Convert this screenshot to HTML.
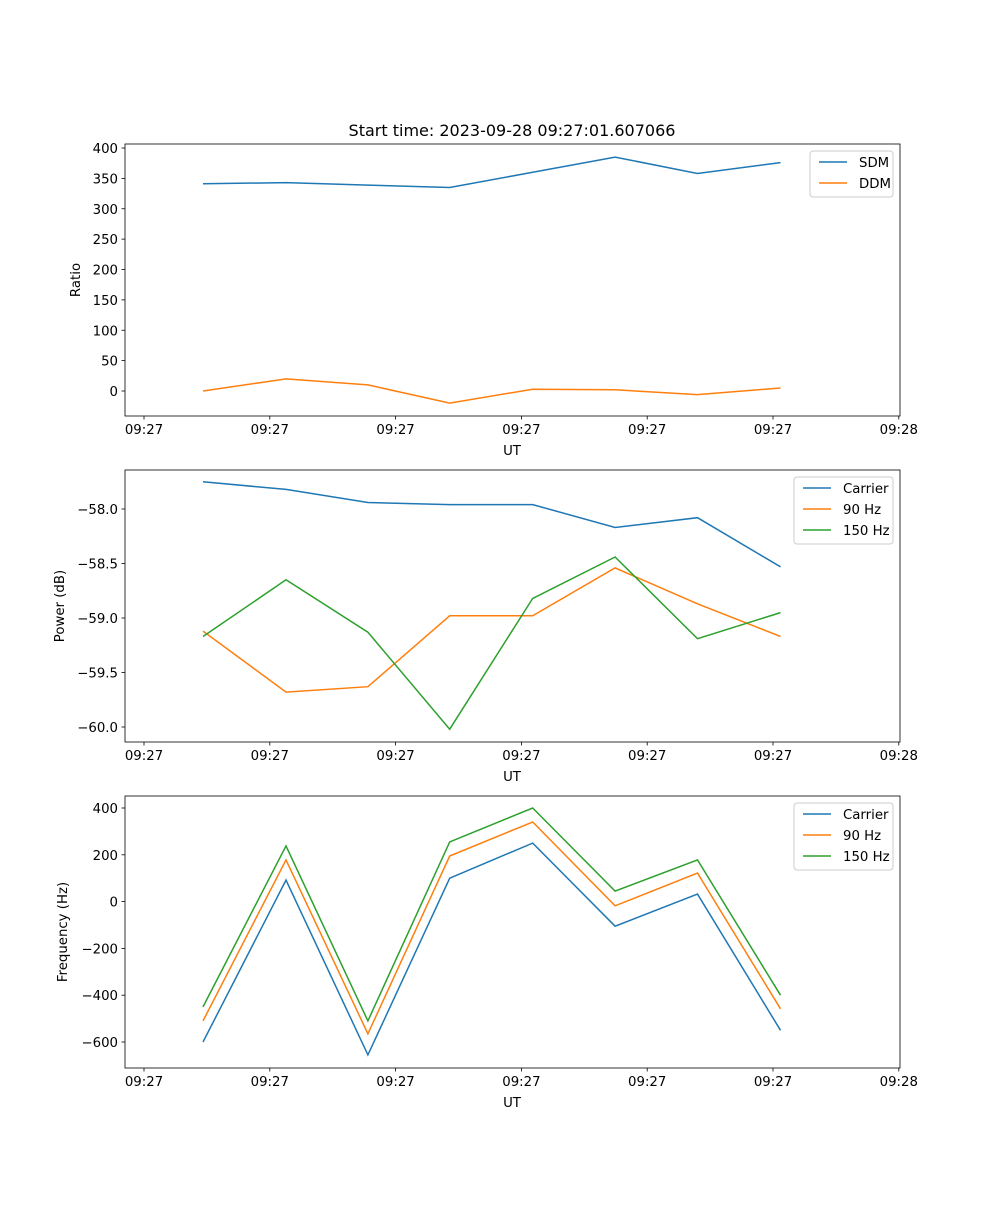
<!DOCTYPE html>
<html><head><meta charset="utf-8"><style>
html,body{margin:0;padding:0;background:#fff}
svg text{font-family:"DejaVu Sans","Liberation Sans",sans-serif;font-size:13.3px;fill:#000}
</style></head><body>
<svg id="fig" width="1000" height="1200" xmlns="http://www.w3.org/2000/svg">
<text x="512" y="136" text-anchor="middle" style="font-size:16px">Start time: 2023-09-28 09:27:01.607066</text>
</svg>
<script>
// shared x data (sample index time, in tick units)
const times = [0.469, 1.129, 1.78, 2.43, 3.09, 3.745, 4.40, 5.06];
const xTickLabels = ["09:27","09:27","09:27","09:27","09:27","09:27","09:28"];
// panel 1
const sdm = [341, 343, 339, 335, 360, 385, 358, 376];
const ddm = [0, 20, 10, -20, 3, 2, -6, 5];
const ratioTicks = [0,50,100,150,200,250,300,350,400];
// panel 2
const pCarrier = [-57.75, -57.82, -57.94, -57.96, -57.96, -58.17, -58.08, -58.53];
const p90 = [-59.12, -59.68, -59.63, -58.98, -58.98, -58.54, -58.87, -59.17];
const p150 = [-59.17, -58.65, -59.13, -60.02, -58.82, -58.44, -59.19, -58.95];
const powerTicks = [-58.0,-58.5,-59.0,-59.5,-60.0];
// panel 3
const fCarrier = [-600, 92, -655, 100, 250, -105, 32, -550];
const f90 = [-510, 178, -565, 195, 340, -18, 122, -458];
const f150 = [-450, 238, -510, 255, 400, 45, 178, -400];
const freqTicks = [-600,-400,-200,0,200,400];

const NS="http://www.w3.org/2000/svg";
const svg=document.getElementById('fig');
const C={b:'#1f77b4',o:'#ff7f0e',g:'#2ca02c'};
function el(t,a,p){const e=document.createElementNS(NS,t);for(const k in a)e.setAttribute(k,a[k]);(p||svg).appendChild(e);return e;}
const X0=125,X1=900;
const xs=v=>144+v*125.8;

function panel(name,top,bot,yv0,py0,yv1,py1,ticks,fmt,ylabel,series,legend){
  const g=el('g',{});
  
  
  const ys=v=>py0+(v-yv0)*(py1-py0)/(yv1-yv0);
  series.forEach(s=>{
    const pts=s.d.map((v,i)=>xs(times[i]).toFixed(1)+','+ys(v).toFixed(1)).join(' ');
    const l=el('polyline',{points:pts,fill:'none',stroke:s.c,'stroke-width':1.5},g);
    
    
  });
  el('rect',{x:X0,y:top,width:X1-X0,height:bot-top,fill:'none',stroke:'#000','stroke-width':0.8},g);
  xTickLabels.forEach((t,i)=>{
    const x=xs(i);
    el('line',{x1:x,x2:x,y1:bot,y2:bot+3.5,stroke:'#000','stroke-width':0.8},g);
    const tx=el('text',{x:x,y:bot+18,'text-anchor':'middle'},g);tx.textContent=t;
    
    
  });
  const xl=el('text',{x:512,y:bot+39,'text-anchor':'middle'},g);xl.textContent='UT';
  
  
  ticks.forEach(v=>{
    const y=ys(v);
    el('line',{x1:X0-3.5,x2:X0,y1:y,y2:y,stroke:'#000','stroke-width':0.8},g);
    const tx=el('text',{x:X0-7,y:y+5,'text-anchor':'end'},g);tx.textContent=fmt(v);
    
    
  });
  const yl=el('text',{x:0,y:0,'text-anchor':'middle',transform:`translate(${legend.yl},${(top+bot)/2}) rotate(-90)`},g);yl.textContent=ylabel;
  
  
  const lg=el('g',{},g);
  
  
  const h=series.length*21+4;
  el('rect',{x:legend.x,y:top+7,width:legend.w,height:h,fill:'#fff',stroke:'#ccc','stroke-width':1,rx:3},lg);
  series.forEach((s,i)=>{
    const y=top+18+i*21;
    el('line',{x1:legend.x+9,x2:legend.x+37,y1:y,y2:y,stroke:s.c,'stroke-width':1.5},lg);
    const t=el('text',{x:legend.x+49,y:y+5},lg);t.textContent=s.n;
    
    
  });
}
const minus=s=>s.replace('-','\u2212');
panel('ratio',144,416,400,148,0,391,ratioTicks,v=>minus(String(v)),'Ratio',
  [{n:'SDM',d:sdm,c:C.b},{n:'DDM',d:ddm,c:C.o}],{x:810,w:83,yl:80});
panel('power',470,742,-58.0,509,-60.0,727,powerTicks,v=>minus(v.toFixed(1)),'Power (dB)',
  [{n:'Carrier',d:pCarrier,c:C.b},{n:'90 Hz',d:p90,c:C.o},{n:'150 Hz',d:p150,c:C.g}],{x:794,w:99,yl:64});
panel('frequency',796,1068,400,808,-600,1042,freqTicks,v=>minus(String(v)),'Frequency (Hz)',
  [{n:'Carrier',d:fCarrier,c:C.b},{n:'90 Hz',d:f90,c:C.o},{n:'150 Hz',d:f150,c:C.g}],{x:794,w:99,yl:67});
</script>
</body></html>
